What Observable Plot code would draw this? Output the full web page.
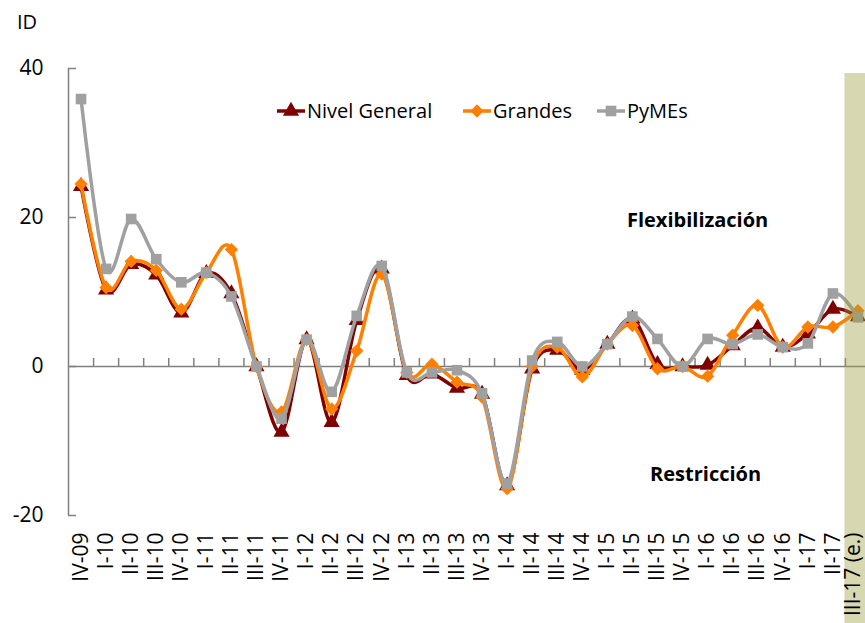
<!DOCTYPE html>
<html>
<head>
<meta charset="utf-8">
<script src="https://cdn.jsdelivr.net/npm/d3@7"></script>
<script src="https://cdn.jsdelivr.net/npm/@observablehq/plot@0.6"></script>
<style>
  html, body { margin: 0; padding: 0; background: #fff; }
  #wrap { position: relative; width: 865px; height: 623px; overflow: hidden; font-family: "Open Sans", sans-serif; }
  #wrap svg { display: block; }
  .idlab { position: absolute; left: 17px; top: 8px; font-size: 20px; color: #000; }
  .leg { position: absolute; display: flex; align-items: center; font-size: 20px; color: #000; white-space: nowrap; }
  .leg svg { margin-right: 2px; }
</style>
</head>
<body>
<div id="wrap"></div>
<script>
// ---- data ----
const categories = ["IV-09","I-10","II-10","III-10","IV-10","I-11","II-11","III-11","IV-11","I-12","II-12","III-12","IV-12","I-13","II-13","III-13","IV-13","I-14","II-14","III-14","IV-14","I-15","II-15","III-15","IV-15","I-16","II-16","III-16","IV-16","I-17","II-17","III-17 (e.)"];
const nivelGeneral = [24.2,10.3,13.7,12.3,7.2,12.5,9.8,0,-8.8,3.6,-7.5,6.2,13.1,-1.2,-1.0,-2.9,-3.7,-16.0,-0.3,2.2,-0.5,3.0,6.4,0.3,0,0.2,2.8,5.2,2.6,4.4,7.7,6.7];
const grandes = [24.5,10.6,14.1,12.9,7.7,12.6,15.7,0,-6.1,3.6,-5.7,2.1,12.4,-0.8,0.3,-2.1,-4.1,-16.4,0,2.6,-1.4,3.0,5.5,-0.3,0,-1.3,4.2,8.2,2.6,5.3,5.3,7.5];
const pymes = [35.9,13.1,19.8,14.4,11.3,12.6,9.4,0,-7.0,3.6,-3.4,6.8,13.5,-0.8,-0.8,-0.5,-3.6,-15.7,0.8,3.3,0,3.0,6.7,3.7,0,3.7,3.0,4.3,2.6,3.1,9.8,6.6];
const seriesNames = ["Nivel General","Grandes","PyMEs"];
const yTicks = [-20, 0, 20, 40];
const annotations = ["Flexibilización","Restricción"];
const yTitle = "ID";

// ---- styling ----
const colors = ["#800000","#ff8000","#a0a0a0"];
const diamond = d3.symbolDiamond2 || d3.symbolDiamond;
const symbols = [d3.symbolTriangle, diamond, d3.symbolSquare];

const W = 865, H = 623, mL = 68, mR = -5, mT = 68, mB = 108;
const step = (W - mR - mL) / categories.length;
const pxPerUnit = (H - mT - mB) / (yTicks[yTicks.length-1] - yTicks[0]);
const yMin = yTicks[0], yMax = yTicks[yTicks.length-1];

const values = [nivelGeneral, grandes, pymes];
const rows = [];
values.forEach((arr, s) => arr.forEach((v, i) => rows.push({cat: categories[i], value: v, s})));

const seriesMarks = [];
values.forEach((arr, s) => {
  const data = rows.filter(d => d.s === s);
  seriesMarks.push(Plot.line(data, {x: "cat", y: "value", stroke: colors[s], strokeWidth: 3.5, curve: "cardinal"}));
  seriesMarks.push(Plot.dot(data, {x: "cat", y: "value", fill: colors[s], stroke: "none", r: 6, symbol: () => symbols[s]}));
});

const first = categories[0];
const last = categories[categories.length - 1];
const chart = Plot.plot({
  width: W, height: H,
  marginLeft: mL, marginRight: mR, marginTop: mT, marginBottom: mB,
  style: {fontFamily: "Open Sans", fontSize: "21px", color: "#000", background: "transparent"},
  x: {type: "point", domain: categories, padding: 0.5, round: false, axis: null},
  y: {domain: [yMin, yMax], ticks: yTicks, tickSize: 0, tickPadding: 25, label: null, tickFormat: d => String(d)},
  marks: [
    Plot.ruleY([0], {stroke: "#808080", strokeWidth: 1.5}),
    Plot.ruleX(categories.slice(1), {x: d => d, dx: -step/2, y1: () => 0, y2: () => 8/pxPerUnit, stroke: "#808080", strokeWidth: 1.5}),
    Plot.ruleX([first], {x: d => d, dx: -step/2, y1: () => yMin, y2: () => yMax, stroke: "#808080", strokeWidth: 1.5}),
    Plot.ruleY(yTicks, {y: d => d, x1: () => first, x2: () => first, dx: -step/2, insetRight: -8, stroke: "#808080", strokeWidth: 1.5}),
    ...seriesMarks,
    Plot.ruleX([last], {x: d => d, y1: () => yMax - 5/pxPerUnit, y2: () => yMin - mB/pxPerUnit, stroke: "#9b9b3c", strokeOpacity: 0.4, strokeWidth: step + 2}),
    Plot.text(categories.slice(0, -1), {x: d => d, y: () => yMin, text: d => d, rotate: -90, textAnchor: "end", dy: 17, fontSize: 21}),
    Plot.text([last], {x: d => d, y: () => yMin, text: d => d, rotate: -90, textAnchor: "end", dy: 17, dx: -5, fontSize: 21}),
    Plot.text([annotations[0]], {x: () => categories[25], y: () => 19.6, text: d => d, fontWeight: "bold", fontSize: 20, dx: -10}),
    Plot.text([annotations[1]], {x: () => categories[25], y: () => -14.5, text: d => d, fontWeight: "bold", fontSize: 20, dx: -2})
  ]
});

const wrap = document.getElementById("wrap");
wrap.appendChild(chart);

const idl = document.createElement("div");
idl.className = "idlab"; idl.textContent = yTitle;
wrap.appendChild(idl);

// legend
const legLeft = [277, 463, 597];
seriesNames.forEach((name, s) => {
  const div = document.createElement("div");
  div.className = "leg";
  div.style.left = legLeft[s] + "px";
  div.style.top = "97px";
  const sw = d3.create("svg").attr("width", 28).attr("height", 20);
  sw.append("line").attr("x1", 0).attr("x2", 28).attr("y1", 10).attr("y2", 10).attr("stroke", colors[s]).attr("stroke-width", 3.5);
  sw.append("path").attr("transform", "translate(14,10)").attr("d", d3.symbol(symbols[s], Math.PI * 36)()).attr("fill", colors[s]);
  div.appendChild(sw.node());
  const t = document.createElement("span"); t.textContent = name;
  div.appendChild(t);
  wrap.appendChild(div);
});
</script>
</body>
</html>
